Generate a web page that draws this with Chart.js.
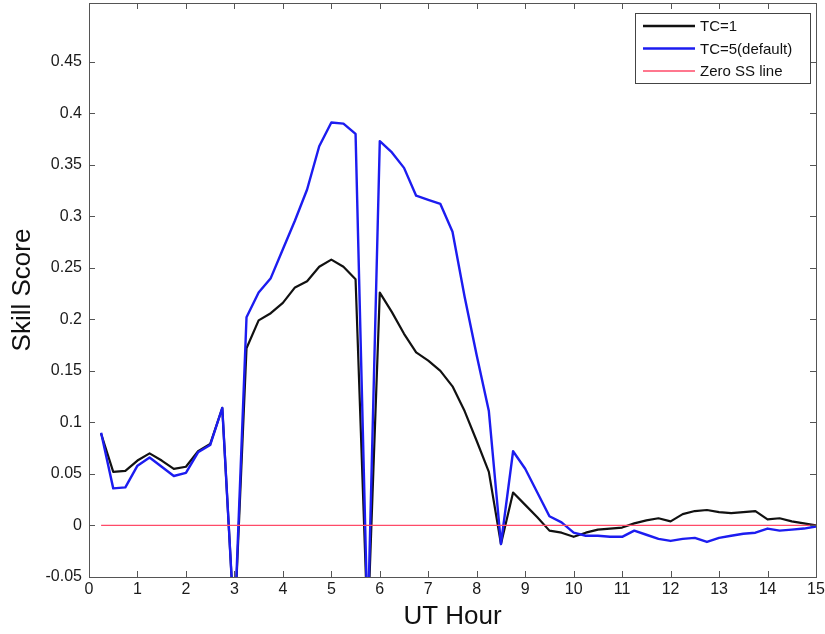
<!DOCTYPE html>
<html>
<head>
<meta charset="utf-8">
<script src="https://cdn.jsdelivr.net/npm/chart.js@4"></script>
<style>
  html, body { margin: 0; padding: 0; background: #fff; }
  #wrap { width: 825px; height: 634px; }
</style>
</head>
<body>
<div id="wrap"><canvas id="skillChart" width="825" height="634"></canvas></div>
<script>
// UT hours, 15 minute steps
const hours = [
  0.25, 0.5, 0.75, 1, 1.25, 1.5, 1.75, 2, 2.25, 2.5, 2.75, 3,
  3.25, 3.5, 3.75, 4, 4.25, 4.5, 4.75, 5, 5.25, 5.5, 5.75, 6,
  6.25, 6.5, 6.75, 7, 7.25, 7.5, 7.75, 8, 8.25, 8.5, 8.75, 9,
  9.25, 9.5, 9.75, 10, 10.25, 10.5, 10.75, 11, 11.25, 11.5, 11.75, 12,
  12.25, 12.5, 12.75, 13, 13.25, 13.5, 13.75, 14, 14.25, 14.5, 14.75, 15
];

const tc1 = [
  0.089, 0.052, 0.053, 0.063, 0.070, 0.063, 0.055, 0.057, 0.072, 0.079, 0.114, -0.10,
  0.172, 0.199, 0.206, 0.216, 0.231, 0.237, 0.251, 0.258, 0.251, 0.239, -0.10, 0.226,
  0.207, 0.186, 0.168, 0.160, 0.150, 0.135, 0.111, 0.082, 0.052, -0.018, 0.032, 0.020,
  0.008, -0.005, -0.007, -0.011, -0.007, -0.004, -0.003, -0.002, 0.002, 0.005, 0.007, 0.004,
  0.011, 0.014, 0.015, 0.013, 0.012, 0.013, 0.014, 0.006, 0.007, 0.004, 0.002, 0.000
];

const tc5 = [
  0.090, 0.036, 0.037, 0.058, 0.066, 0.057, 0.048, 0.051, 0.071, 0.078, 0.114, -0.10,
  0.202, 0.226, 0.240, 0.268, 0.296, 0.326, 0.368, 0.391, 0.390, 0.380, -0.10, 0.373,
  0.362, 0.347, 0.320, 0.316, 0.312, 0.285, 0.222, 0.165, 0.111, -0.018, 0.072, 0.055,
  0.032, 0.009, 0.003, -0.007, -0.010, -0.010, -0.011, -0.011, -0.005, -0.009, -0.013, -0.015,
  -0.013, -0.012, -0.016, -0.012, -0.010, -0.008, -0.007, -0.003, -0.005, -0.004, -0.003, -0.001
];

const zeroX = [0.25, 15];
const zeroY = [0, 0];

const xTicks = [0, 1, 2, 3, 4, 5, 6, 7, 8, 9, 10, 11, 12, 13, 14, 15];
const yTicks = [-0.05, 0, 0.05, 0.1, 0.15, 0.2, 0.25, 0.3, 0.35, 0.4, 0.45];
const yTickLabels = ['-0.05', '0', '0.05', '0.1', '0.15', '0.2', '0.25', '0.3', '0.35', '0.4', '0.45'];

const FONT = "'Liberation Sans', Arial, sans-serif";

const toPoints = (xs, ys) => xs.map((x, i) => ({ x: x, y: ys[i] }));

// no extra room for half-labels at the ends of the axes
const noPad = s => {
  s.paddingTop = 0; s.paddingBottom = 0;
  s.paddingLeft = 0; s.paddingRight = 0;
};

// box round the plot plus inward tick marks on all four sides
const boxPlugin = {
  id: 'boxTicks',
  afterDatasetsDraw(chart) {
    const { ctx, chartArea: a, scales } = chart;
    const len = 6;
    ctx.save();
    ctx.strokeStyle = '#555';
    ctx.lineWidth = 1;
    ctx.beginPath();
    xTicks.forEach(v => {
      const px = Math.round(scales.x.getPixelForValue(v)) + 0.5;
      ctx.moveTo(px, a.bottom); ctx.lineTo(px, a.bottom - len);
      ctx.moveTo(px, a.top); ctx.lineTo(px, a.top + len);
    });
    yTicks.forEach(v => {
      const py = Math.round(scales.y.getPixelForValue(v)) + 0.5;
      ctx.moveTo(a.left, py); ctx.lineTo(a.left + len, py);
      ctx.moveTo(a.right, py); ctx.lineTo(a.right - len, py);
    });
    ctx.stroke();
    ctx.strokeRect(Math.round(a.left) + 0.5, Math.round(a.top) + 0.5,
                   Math.round(a.right - a.left), Math.round(a.bottom - a.top));
    ctx.restore();
  }
};

// MATLAB style legend box in the top right corner
const legendPlugin = {
  id: 'boxLegend',
  afterDraw(chart) {
    const { ctx, chartArea: a } = chart;
    const sets = chart.data.datasets;
    const w = 175, h = 70;
    const x0 = a.right - 6 - w, y0 = a.top + 10;
    ctx.save();
    ctx.fillStyle = '#fff';
    ctx.fillRect(x0, y0, w, h);
    ctx.strokeStyle = '#444';
    ctx.lineWidth = 1;
    ctx.strokeRect(x0 + 0.5, y0 + 0.5, w, h);
    ctx.font = '15px ' + FONT;
    ctx.textBaseline = 'middle';
    sets.forEach((ds, i) => {
      const y = y0 + 13 + i * 22.5;
      ctx.strokeStyle = ds.borderColor;
      ctx.lineWidth = ds.legendWidth;
      ctx.beginPath();
      ctx.moveTo(x0 + 8, y);
      ctx.lineTo(x0 + 60, y);
      ctx.stroke();
      ctx.fillStyle = '#111';
      ctx.fillText(ds.label, x0 + 65, y + 1);
    });
    ctx.restore();
  }
};

new Chart(document.getElementById('skillChart'), {
  type: 'line',
  data: {
    datasets: [
      {
        label: 'TC=1',
        data: toPoints(hours, tc1),
        borderColor: '#111111',
        borderWidth: 2.2,
        legendWidth: 2.5,
        order: 2
      },
      {
        label: 'TC=5(default)',
        data: toPoints(hours, tc5),
        borderColor: '#1c1cf0',
        borderWidth: 2.4,
        legendWidth: 2.5,
        order: 1
      },
      {
        label: 'Zero SS line',
        data: toPoints(zeroX, zeroY),
        borderColor: '#ff4a68',
        borderWidth: 1.3,
        legendWidth: 1.3,
        order: 0
      }
    ]
  },
  options: {
    responsive: false,
    animation: false,
    devicePixelRatio: 1,
    layout: {
      autoPadding: false,
      padding: { top: 3, right: 9, left: 0, bottom: 0 }
    },
    elements: {
      point: { radius: 0 },
      line: { tension: 0, borderJoinStyle: 'round' }
    },
    plugins: {
      legend: { display: false },
      tooltip: { enabled: false }
    },
    scales: {
      x: {
        type: 'linear',
        min: 0,
        max: 15,
        afterFit: s => { s.height = 57; noPad(s); },
        afterBuildTicks: s => { s.ticks = xTicks.map(v => ({ value: v })); },
        grid: { display: false, drawTicks: false },
        border: { display: false },
        ticks: {
          padding: 3,
          color: '#1a1a1a',
          font: { family: FONT, size: 16 },
          maxRotation: 0,
          autoSkip: false,
          callback: v => String(v)
        },
        title: {
          display: true,
          text: 'UT Hour',
          color: '#111',
          font: { family: FONT, size: 26 },
          padding: { top: 0, bottom: 2 }
        }
      },
      y: {
        type: 'linear',
        min: -0.05,
        max: 0.507,
        afterFit: s => { s.width = 89; noPad(s); },
        afterBuildTicks: s => { s.ticks = yTicks.map(v => ({ value: v })); },
        grid: { display: false, drawTicks: false },
        border: { display: false },
        ticks: {
          padding: 7,
          color: '#1a1a1a',
          font: { family: FONT, size: 16 },
          autoSkip: false,
          callback: (v, i) => yTickLabels[i]
        },
        title: {
          display: true,
          text: 'Skill Score',
          color: '#111',
          font: { family: FONT, size: 26 },
          padding: { top: 7, bottom: 0 }
        }
      }
    }
  },
  plugins: [boxPlugin, legendPlugin]
});
</script>
</body>
</html>
